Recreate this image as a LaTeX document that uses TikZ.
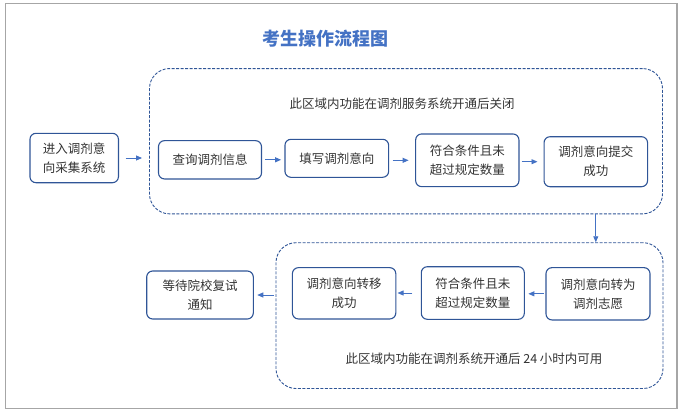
\documentclass[tikz,border=0pt]{standalone}
\usepackage{fontspec}
\setmainfont{Noto Sans CJK SC}
\usetikzlibrary{arrows.meta,positioning}
\definecolor{boxblue}{HTML}{2F5597}
\definecolor{arrowblue}{HTML}{4472C4}
\definecolor{framegray}{HTML}{A6A6A6}
\definecolor{textgray}{HTML}{333333}

\begin{document}
\begin{tikzpicture}[x=1pt, y=-1pt,
  stepbox/.style={draw=boxblue, line width=1.1pt, rounded corners=6pt, text=textgray, align=center, inner sep=0pt, font=\fontsize{12.5}{19}\selectfont},
  zone/.style={draw=boxblue, line width=0.9pt, dash pattern=on 3pt off 1.5pt, rounded corners=20pt, inner sep=0pt},
  flow/.style={draw=arrowblue, line width=0.9pt, -{Triangle[length=6pt,width=5pt]}},
  note/.style={text=textgray, font=\fontsize{12.5}{15}\selectfont}]
  \useasboundingbox (0,0) rectangle (686,415);
  % outer frame
  \draw[framegray, line width=1.2pt] (5.3,3.7) rectangle (677,408.3);

  % title
  \node[text=arrowblue, font=\fontsize{18}{22}\selectfont\bfseries] (title) at (325,38.3) {考生操作流程图};

  % two dashed zones and their notes
  \node[zone, minimum width=513pt, minimum height=145.3pt] (upper) at (406,141.2) {};
  \node[zone, minimum width=387pt, minimum height=145.8pt] (lower) at (469.5,315.6) {};
  \node[note] (uplabel) at (402,104) {此区域内功能在调剂服务系统开通后关闭};
  \node[note] (lowlabel) at (474,359) {此区域内功能在调剂系统开通后 24 小时内可用};

  % upper row
  \node[stepbox, minimum width=88.5pt, minimum height=49.4pt] (enter) at (74.2,158) {进入调剂意\\向采集系统};
  \node[stepbox, minimum width=103pt, minimum height=38.3pt] (query) at (210,159.8) {查询调剂信息};
  \node[stepbox, minimum width=103.7pt, minimum height=38pt] (fill) at (336.8,158.3) {填写调剂意向};
  \node[stepbox, minimum width=103.3pt, minimum height=52.7pt] (check) at (467.3,160.3) {符合条件且未\\超过规定数量};
  \node[stepbox, minimum width=103.5pt, minimum height=50pt] (submit) at (595.8,161.7) {调剂意向提交\\成功};

  % lower row
  \node[stepbox, minimum width=104pt, minimum height=52.3pt] (convert) at (598,293.8) {调剂意向转为\\调剂志愿};
  \node[stepbox, minimum width=103pt, minimum height=52.6pt] (recheck) at (472.8,293) {符合条件且未\\超过规定数量};
  \node[stepbox, minimum width=103.4pt, minimum height=51.3pt] (transfer) at (344.1,293.3) {调剂意向转移\\成功};
  \node[stepbox, minimum width=106.6pt, minimum height=48pt] (wait) at (200,295) {等待院校复试\\通知};

  % arrows
  \draw[flow, shorten <=6.5pt, shorten >=7pt] (enter.east) -- (enter.east -| upper.west);
  \draw[flow, shorten <=3.3pt, shorten >=3.3pt] (query.east) -- (query.east -| fill.west);
  \draw[flow, shorten <=3.5pt, shorten >=6.5pt] (fill.east |- check.west) -- (check.west);
  \draw[flow, shorten <=2pt, shorten >=6pt] (check.east |- submit.west) -- (submit.west);
  \draw[flow] (submit.south |- upper.south) -- (submit.south |- lower.north);
  \draw[flow, shorten <=1.6pt, shorten >=3.5pt] (convert.west) -- (convert.west -| recheck.east);
  \draw[flow, shorten <=8.3pt, shorten >=1.2pt] (recheck.west) -- (recheck.west -| transfer.east);
  \draw[flow, shorten <=2pt, shorten >=3.4pt] (lower.west |- wait.east) -- (wait.east);
\end{tikzpicture}
\end{document}
